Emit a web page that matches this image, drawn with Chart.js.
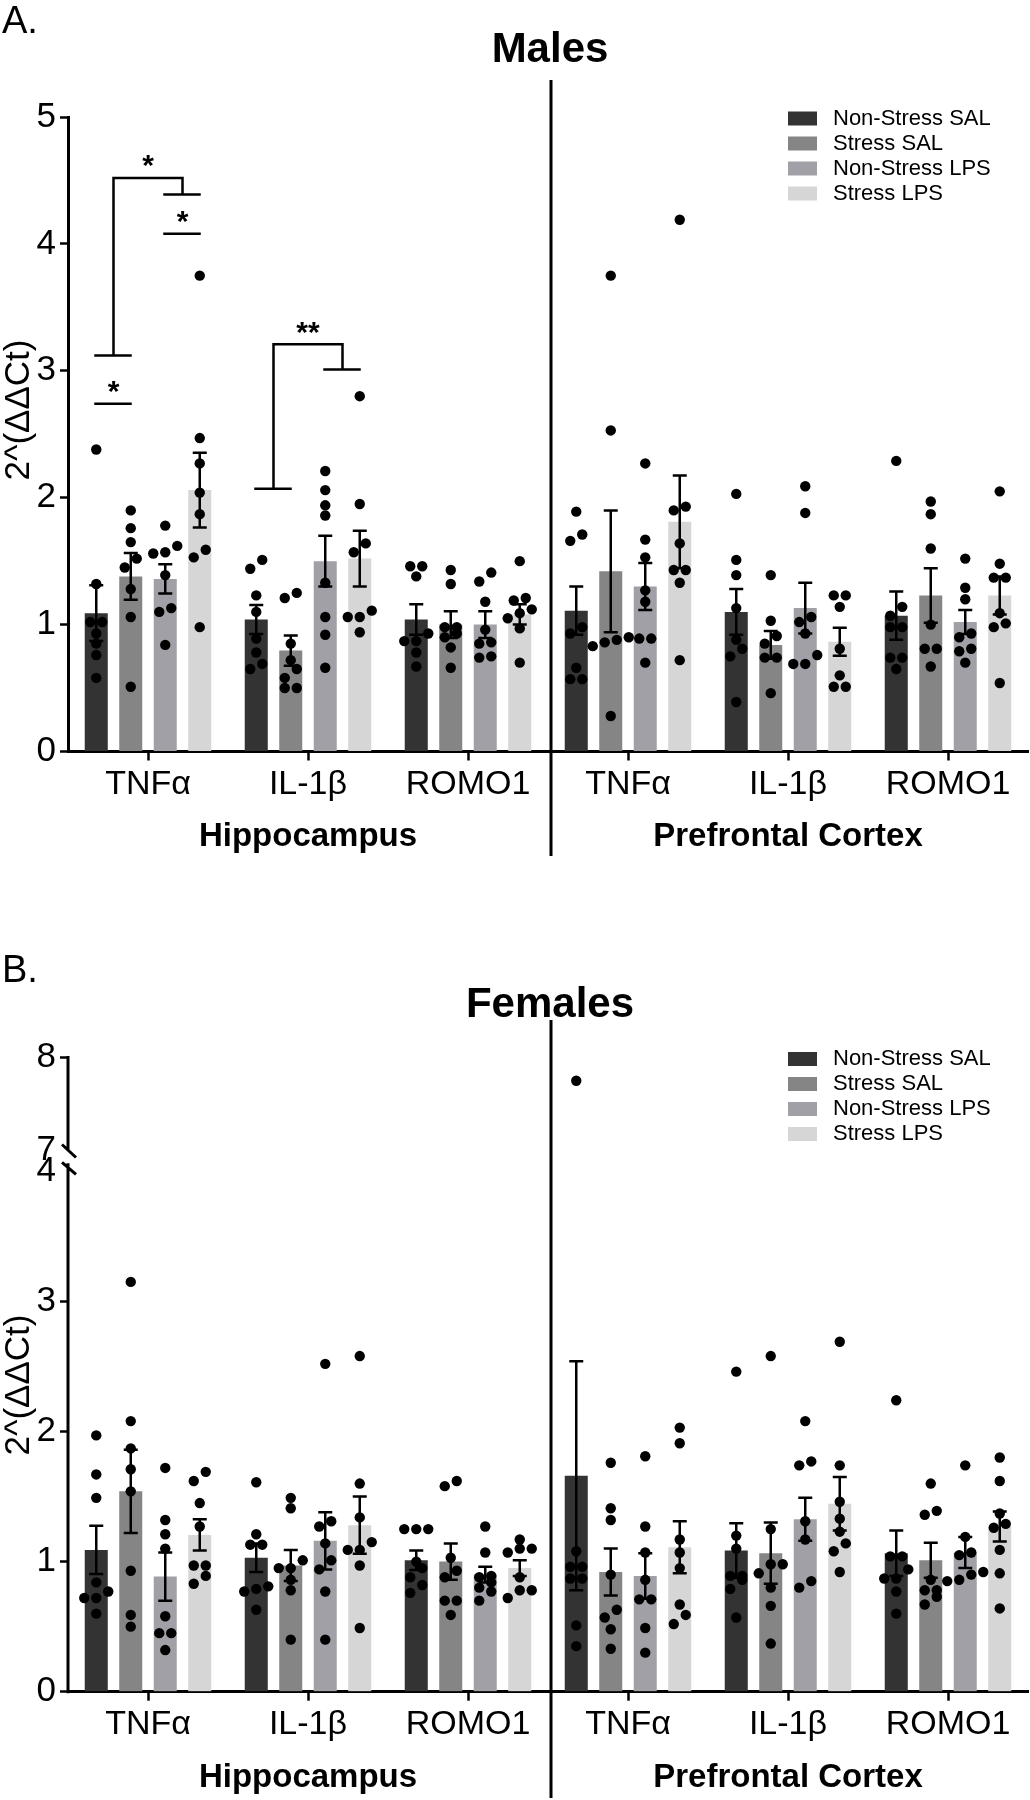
<!DOCTYPE html>
<html>
<head>
<meta charset="utf-8">
<script src="https://cdn.jsdelivr.net/npm/chart.js@4.4.1/dist/chart.umd.min.js"></script>
<style>
  body { margin: 0; background: #fff; }
  #page { position: relative; width: 1030px; height: 1800px; overflow: hidden;
          font-family: "Liberation Sans", Arial, sans-serif; color: #000; }
  .panel { position: absolute; left: 0; width: 1030px; height: 900px; }
  .tag { position: absolute; font-size: 38px; line-height: 38px; }
  .title { position: absolute; font-weight: bold; font-size: 42px; line-height: 42px;
           transform: translateX(-50%); white-space: nowrap; }
</style>
</head>
<body>
<div id="page">
  <div class="panel" style="top:0"><canvas id="males" width="1030" height="900"></canvas></div>
  <div class="panel" style="top:900px"><canvas id="females" width="1030" height="900"></canvas></div>
  <div class="tag" style="left:2px;top:1px">A.</div>
  <div class="title" style="left:550px;top:27px">Males</div>
  <div class="tag" style="left:2px;top:950px">B.</div>
  <div class="title" style="left:550px;top:982px">Females</div>
</div>

<script>
//categories
const genes = ["TNFα", "IL-1β", "ROMO1", "TNFα", "IL-1β", "ROMO1"];
const regions = ["Hippocampus", "Prefrontal Cortex"];
const groups = ["Non-Stress SAL", "Stress SAL", "Non-Stress LPS", "Stress LPS"];
const colors = ["#333333", "#858585", "#a0a0a6", "#d6d6d6"];

//tick labels
const maleTicks = [0, 1, 2, 3, 4, 5];
const femaleTicks = [0, 1, 2, 3, 4, 7, 8];

//males: bar means (hippocampus x3, prefrontal x3)
const maleMeanNSSAL = [1.09, 1.04, 1.04, 1.11, 1.10, 1.07];
const maleMeanSSAL  = [1.38, 0.795, 1.00, 1.42, 0.84, 1.23];
const maleMeanNSLPS = [1.36, 1.50, 1.00, 1.30, 1.13, 1.02];
const maleMeanSLPS  = [2.06, 1.52, 1.08, 1.81, 0.865, 1.23];

//males: SEM
const maleSemNSSAL = [0.22, 0.115, 0.12, 0.19, 0.18, 0.19];
const maleSemSSAL  = [0.185, 0.12, 0.105, 0.48, 0.11, 0.215];
const maleSemNSLPS = [0.115, 0.20, 0.105, 0.185, 0.20, 0.095];
const maleSemSLPS  = [0.295, 0.22, 0.08, 0.365, 0.11, 0.15];

//males: individual animals
const malePtsNSSAL = [
  [2.38, 1.32, 1.02, 1.02, 0.93, 0.85, 0.76, 0.58],
  [1.51, 1.44, 1.23, 1.10, 0.89, 0.78, 0.69, 0.65],
  [1.46, 1.46, 1.38, 0.93, 0.87, 0.87, 0.78, 0.67],
  [1.89, 1.71, 1.66, 0.98, 0.93, 0.66, 0.57, 0.57],
  [2.03, 1.51, 1.39, 1.13, 0.88, 0.81, 0.75, 0.39],
  [2.29, 1.14, 1.07, 0.98, 0.98, 0.74, 0.74, 0.65]
];
const malePtsSSAL = [
  [1.90, 1.76, 1.65, 1.52, 1.45, 1.28, 1.06, 0.51],
  [1.25, 1.21, 0.85, 0.72, 0.65, 0.58, 0.50, 0.50],
  [1.43, 1.32, 0.98, 0.98, 0.93, 0.90, 0.82, 0.66],
  [3.75, 2.53, 0.90, 0.88, 0.86, 0.83, 0.28],
  [1.39, 1.03, 0.91, 0.85, 0.74, 0.74, 0.46],
  [1.97, 1.87, 1.60, 1.00, 0.81, 0.81, 0.67]
];
const malePtsNSLPS = [
  [1.78, 1.62, 1.57, 1.56, 1.39, 1.13, 1.10, 0.84],
  [2.21, 2.06, 1.94, 1.86, 1.33, 1.06, 0.92, 0.66],
  [1.41, 1.34, 1.18, 0.96, 0.86, 0.85, 0.75, 0.74],
  [2.27, 1.67, 1.53, 1.27, 1.18, 0.89, 0.89, 0.70],
  [2.09, 1.88, 1.06, 1.02, 0.93, 0.76, 0.69, 0.69],
  [1.52, 1.29, 1.20, 0.93, 0.90, 0.81, 0.79, 0.70]
];
const malePtsSLPS = [
  [3.75, 2.47, 2.27, 2.04, 1.87, 1.59, 1.53, 0.98],
  [2.80, 1.95, 1.64, 1.57, 1.11, 1.06, 1.06, 0.94],
  [1.50, 1.21, 1.19, 1.12, 1.09, 1.05, 0.97, 0.70],
  [4.19, 1.93, 1.90, 1.64, 1.43, 1.43, 1.33, 0.72],
  [1.23, 1.23, 1.14, 0.81, 0.60, 0.51, 0.51],
  [2.05, 1.48, 1.37, 1.37, 1.09, 1.01, 0.98, 0.54]
];

//females: bar means
const femMeanNSSAL = [1.09, 1.03, 1.01, 1.66, 1.085, 1.065];
const femMeanSSAL  = [1.54, 0.97, 1.00, 0.92, 1.065, 1.01];
const femMeanNSLPS = [0.885, 1.16, 0.90, 0.89, 1.325, 1.07];
const femMeanSLPS  = [1.205, 1.28, 0.95, 1.11, 1.445, 1.27];

//females: SEM
const femSemNSSAL = [0.185, 0.11, 0.075, 0.88, 0.21, 0.175];
const femSemSSAL  = [0.32, 0.12, 0.14, 0.18, 0.235, 0.135];
const femSemNSLPS = [0.185, 0.22, 0.06, 0.175, 0.165, 0.12];
const femSemSLPS  = [0.12, 0.22, 0.06, 0.20, 0.205, 0.115];

//females: individual animals
const femPtsNSSAL = [
  [1.97, 1.67, 1.49, 0.84, 0.77, 0.72, 0.72, 0.60],
  [1.61, 1.21, 1.13, 1.13, 0.81, 0.79, 0.77, 0.63],
  [1.25, 1.25, 1.25, 1.00, 0.95, 0.88, 0.82, 0.76],
  [7.75, 1.08, 0.96, 0.96, 0.87, 0.87, 0.51, 0.35],
  [2.46, 1.20, 1.10, 0.89, 0.89, 0.86, 0.79, 0.57],
  [2.24, 1.04, 1.04, 0.94, 0.87, 0.87, 0.77, 0.60]
];
const femPtsSSAL = [
  [3.15, 2.08, 1.87, 1.71, 1.54, 0.93, 0.59, 0.50],
  [1.49, 1.41, 1.01, 0.95, 0.95, 0.86, 0.78, 0.40],
  [1.62, 1.58, 1.03, 0.93, 0.88, 0.70, 0.70, 0.59],
  [1.76, 1.41, 1.32, 0.90, 0.63, 0.57, 0.48, 0.33],
  [2.58, 1.25, 0.98, 0.98, 0.91, 0.80, 0.66, 0.37],
  [1.60, 1.39, 1.36, 0.86, 0.78, 0.78, 0.73, 0.67]
];
const femPtsNSLPS = [
  [1.72, 1.32, 1.21, 1.10, 0.58, 0.45, 0.45, 0.32],
  [2.52, 1.31, 1.27, 1.14, 1.01, 0.94, 0.77, 0.40],
  [1.27, 1.07, 0.89, 0.88, 0.84, 0.80, 0.77, 0.70],
  [1.81, 1.27, 1.07, 0.86, 0.71, 0.71, 0.49, 0.30],
  [2.08, 1.77, 1.74, 1.31, 1.17, 0.85, 0.80],
  [1.74, 1.19, 1.07, 1.05, 0.92, 0.90, 0.86, 0.85]
];
const femPtsSLPS = [
  [1.69, 1.62, 1.45, 1.27, 0.97, 0.97, 0.89, 0.83],
  [2.58, 1.60, 1.34, 1.15, 1.09, 1.09, 0.97, 0.49],
  [1.17, 1.10, 1.10, 1.07, 0.88, 0.78, 0.78, 0.72],
  [2.03, 1.91, 1.17, 1.07, 0.95, 0.67, 0.59, 0.52],
  [2.69, 1.74, 1.46, 1.33, 1.23, 1.14, 1.08, 0.92],
  [1.80, 1.62, 1.37, 1.29, 1.26, 1.09, 0.91, 0.64]
];

//significance marks (males only): bars are indices into groups
const maleBrackets = [
  { g: 0, left: [0, 1], right: [2, 3], top: 4.52, leftFoot: 3.12, rightFoot: 4.39, label: "*" },
  { g: 1, left: [0, 1], right: [2, 3], top: 3.21, leftFoot: 2.07, rightFoot: 3.01, label: "**" }
];
const maleSigLines = [
  { g: 0, span: [2, 3], y: 4.08, label: "*" },
  { g: 0, span: [0, 1], y: 2.74, label: "*" }
];

const FONT = '"Liberation Sans", Arial, sans-serif';
const CAT_PCT = 0.8625;
const BAR_PCT = 0.667;

//put overlapping dots side by side (fraction of a category width)
function spread(values) {
  const idx = values.map((v, i) => i).sort((a, b) => values[a] - values[b]);
  const out = new Array(values.length).fill(0);
  let run = [idx[0]];
  const flush = () => run.forEach((id, j) => { out[id] = (j - (run.length - 1) / 2) * 0.075; });
  for (let i = 1; i < idx.length; i++) {
    if (values[idx[i]] - values[run[0]] < 0.075) run.push(idx[i]);
    else { flush(); run = [idx[i]]; }
  }
  flush();
  return out;
}

function buildChart(id, p) {
  const brk = p.brk;

  //bars
  const datasets = p.means.map((m, k) => ({
    label: groups[k], data: m.map(brk),
    backgroundColor: colors[k], borderWidth: 0,
    categoryPercentage: CAT_PCT, barPercentage: BAR_PCT
  }));

  //error bars and animal dots on top of bars
  const marks = {
    id: "marks",
    afterDatasetsDraw(chart) {
      const c = chart.ctx, y = chart.scales.y, x = chart.scales.x;
      const catW = x.width / genes.length;
      c.save();
      c.strokeStyle = "#000";
      c.fillStyle = "#000";
      c.lineWidth = 2.5;
      p.means.forEach((m, k) => {
        const meta = chart.getDatasetMeta(k);
        meta.data.forEach((bar, g) => {
          const hi = y.getPixelForValue(brk(m[g] + p.sems[k][g]));
          const lo = y.getPixelForValue(brk(m[g] - p.sems[k][g]));
          c.beginPath();
          c.moveTo(bar.x, hi); c.lineTo(bar.x, lo);
          c.moveTo(bar.x - 7, hi); c.lineTo(bar.x + 7, hi);
          c.moveTo(bar.x - 7, lo); c.lineTo(bar.x + 7, lo);
          c.stroke();

          const vals = p.points[k][g];
          const jit = spread(vals);
          vals.forEach((v, i) => {
            c.beginPath();
            c.arc(bar.x + jit[i] * catW, y.getPixelForValue(brk(v)), 5.2, 0, Math.PI * 2);
            c.fill();
          });
        });
      });
      c.restore();
    }
  };

  const decor = {
    id: "decor",
    afterDraw(chart) {
      const c = chart.ctx, y = chart.scales.y, x = chart.scales.x;
      const area = chart.chartArea;
      c.save();
      c.strokeStyle = "#000";
      c.fillStyle = "#000";

      //region divider
      const dx = (x.getPixelForValue(2) + x.getPixelForValue(3)) / 2 + 3;
      c.lineWidth = 3;
      c.beginPath();
      c.moveTo(dx, p.divTop); c.lineTo(dx, p.divBottom);
      c.stroke();

      //legend
      c.font = "22px " + FONT;
      c.textBaseline = "middle";
      c.textAlign = "left";
      groups.forEach((name, k) => {
        const cy = area.top + 1.5 + k * 25;
        c.fillStyle = colors[k];
        c.fillRect(788, cy - 7, 29, 14);
        c.fillStyle = "#000";
        c.fillText(name, 833, cy);
      });

      //y title
      c.save();
      c.translate(19, p.titleY);
      c.rotate(-Math.PI / 2);
      c.textAlign = "center";
      c.textBaseline = "middle";
      c.font = "35px " + FONT;
      c.fillText("2^(ΔΔCt)", 0, 0);
      c.restore();

      //broken y axis
      if (p.broken) {
        const ax = y.right;
        const y8 = y.getPixelForValue(brk(8)), y7 = y.getPixelForValue(brk(7));
        const y4 = y.getPixelForValue(4), y0 = y.getPixelForValue(0);
        c.lineWidth = 3;
        c.beginPath();
        c.moveTo(ax, y8 - 1.5); c.lineTo(ax, y7);
        c.moveTo(ax, y4 - 8); c.lineTo(ax, y0 + 1.5);
        c.moveTo(ax - 6, y7 - 6); c.lineTo(ax + 8, y7 + 7);
        c.moveTo(ax - 6, y4 - 9); c.lineTo(ax + 8, y4 + 3);
        c.stroke();
      }

      //significance
      const barX = (g, k) => chart.getDatasetMeta(k).data[g].x;
      const star = (txt, sx, sy) => {
        c.font = "bold 30px " + FONT;
        c.textAlign = "center";
        c.textBaseline = "alphabetic";
        c.fillText(txt, sx, sy - 2.5);
      };
      c.lineWidth = 2.5;
      (p.brackets || []).forEach(b => {
        const la = barX(b.g, b.left[0]), lb = barX(b.g, b.left[1]);
        const ra = barX(b.g, b.right[0]), rb = barX(b.g, b.right[1]);
        const lx = (la + lb) / 2, rx = (ra + rb) / 2;
        const ty = y.getPixelForValue(b.top);
        const ly = y.getPixelForValue(b.leftFoot), ry = y.getPixelForValue(b.rightFoot);
        c.beginPath();
        c.moveTo(lx, ly); c.lineTo(lx, ty); c.lineTo(rx, ty); c.lineTo(rx, ry);
        c.moveTo(la - 2, ly); c.lineTo(lb + 1, ly);
        c.moveTo(ra - 2, ry); c.lineTo(rb + 1, ry);
        c.stroke();
        star(b.label, (lx + rx) / 2, ty);
      });
      (p.sigLines || []).forEach(s => {
        const a = barX(s.g, s.span[0]), b = barX(s.g, s.span[1]);
        const yy = y.getPixelForValue(s.y);
        c.beginPath();
        c.moveTo(a - 2, yy); c.lineTo(b + 1, yy);
        c.stroke();
        star(s.label, (a + b) / 2, yy);
      });

      c.restore();
    }
  };

  return new Chart(document.getElementById(id), {
    type: "bar",
    data: { labels: genes, datasets: datasets },
    options: {
      responsive: false,
      animation: false,
      devicePixelRatio: 1,
      layout: { padding: { top: p.padTop, right: 2, left: 0, bottom: p.padBottom } },
      plugins: { legend: { display: false }, tooltip: { enabled: false } },
      scales: {
        x: {
          type: "category", position: "bottom", offset: true, labels: genes,
          grid: { display: true, drawOnChartArea: false, drawTicks: true, tickLength: 9,
                  tickWidth: 2.5, tickColor: "#000", offset: false },
          border: { display: true, color: "#000", width: 3 },
          ticks: { color: "#000", font: { family: FONT, size: 34 }, padding: 4,
                   maxRotation: 0, autoSkip: false },
          afterFit: s => { s.height = 58; }
        },
        x2: {
          type: "category", position: "bottom", offset: true, labels: regions, weight: 1,
          grid: { display: false }, border: { display: false },
          ticks: { color: "#000", font: { family: FONT, size: 33, weight: "bold" }, padding: 0,
                   maxRotation: 0, autoSkip: false },
          afterFit: s => { s.height = 50; }
        },
        y: {
          type: "linear", position: "left", min: 0, max: brk(p.ticks[p.ticks.length - 1]),
          afterBuildTicks: s => { s.ticks = p.ticks.map(v => ({ value: brk(v) })); },
          ticks: { color: "#000", font: { family: FONT, size: 35 }, padding: 4, autoSkip: false,
                   callback: (v, i) => String(p.ticks[i]) },
          grid: { display: true, drawOnChartArea: false, drawTicks: true, tickLength: 8, tickWidth: 2.5,
                  tickColor: ctx => (p.hideTicks || []).includes(p.ticks[ctx.index]) ? "rgba(0,0,0,0)" : "#000" },
          border: { display: !p.broken, color: "#000", width: 3 },
          afterFit: s => { s.width = 68; }
        }
      }
    },
    plugins: [marks, decor]
  });
}

//males: plain linear axis
buildChart("males", {
  means: [maleMeanNSSAL, maleMeanSSAL, maleMeanNSLPS, maleMeanSLPS],
  sems: [maleSemNSSAL, maleSemSSAL, maleSemNSLPS, maleSemSLPS],
  points: [malePtsNSSAL, malePtsSSAL, malePtsNSLPS, malePtsSLPS],
  ticks: maleTicks,
  brk: v => v,
  padTop: 117, padBottom: 40.5,
  divTop: 80, divBottom: 856,
  titleY: 410,
  brackets: maleBrackets, sigLines: maleSigLines
});

//females: axis broken between 4 and 7
const GAP = 0.16, TOP_SCALE = 0.715;
buildChart("females", {
  means: [femMeanNSSAL, femMeanSSAL, femMeanNSLPS, femMeanSLPS],
  sems: [femSemNSSAL, femSemSSAL, femSemNSLPS, femSemSLPS],
  points: [femPtsNSSAL, femPtsSSAL, femPtsNSLPS, femPtsSLPS],
  ticks: femaleTicks,
  brk: v => (v <= 4 ? v : 4 + GAP + (v - 7) * TOP_SCALE),
  broken: true, hideTicks: [4, 7],
  padTop: 157.5, padBottom: 0.3,
  divTop: 120, divBottom: 898,
  titleY: 485
});
</script>
</body>
</html>
